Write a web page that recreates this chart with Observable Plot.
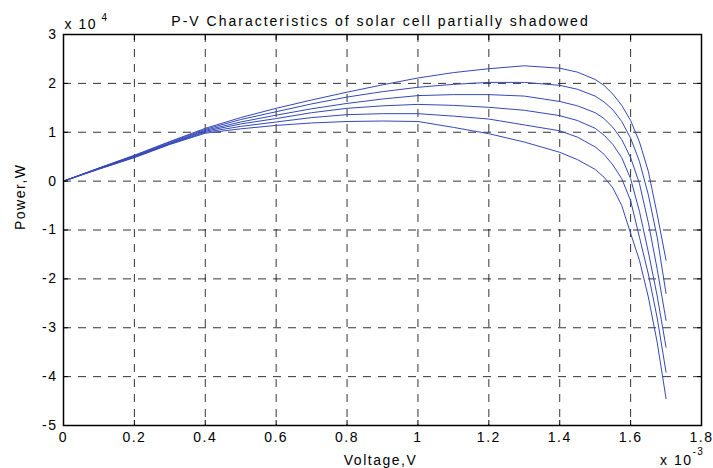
<!DOCTYPE html>
<html><head><meta charset="utf-8">
<script src="https://cdn.jsdelivr.net/npm/d3@7"></script>
<script src="https://cdn.jsdelivr.net/npm/@observablehq/plot@0.6"></script>
<style>body{margin:0;background:#fff} svg{display:block}</style>
</head><body><div id="chart"></div>
<script>
// Voltage (x 1e-3 V)
const voltage = [0, 0.1, 0.2, 0.3, 0.4, 0.5, 0.6, 0.7, 0.8, 0.9, 1.0, 1.1, 1.2, 1.3, 1.4, 1.45, 1.5, 1.525, 1.55, 1.575, 1.6, 1.625, 1.65, 1.675, 1.7];
// Power (x 1e4 W), six shading levels
const curve1 = [0, 0.27, 0.53, 0.81, 1.08, 1.30, 1.49, 1.66, 1.82, 1.97, 2.11, 2.22, 2.30, 2.36, 2.31, 2.23, 2.08, 1.96, 1.78, 1.55, 1.24, 0.80, 0.20, -0.68, -1.62];
const curve2 = [0, 0.265, 0.52, 0.80, 1.06, 1.26, 1.42, 1.58, 1.72, 1.83, 1.92, 1.98, 2.02, 2.02, 1.96, 1.88, 1.74, 1.62, 1.46, 1.22, 0.88, 0.40, -0.28, -1.15, -2.30];
const curve3 = [0, 0.26, 0.51, 0.78, 1.04, 1.21, 1.35, 1.48, 1.59, 1.68, 1.75, 1.77, 1.77, 1.74, 1.63, 1.54, 1.40, 1.28, 1.10, 0.85, 0.48, -0.05, -0.85, -1.80, -2.85];
const curve4 = [0, 0.255, 0.50, 0.77, 1.02, 1.17, 1.28, 1.40, 1.49, 1.54, 1.57, 1.55, 1.51, 1.45, 1.34, 1.24, 1.08, 0.94, 0.75, 0.48, 0.05, -0.62, -1.45, -2.35, -3.40];
const curve5 = [0, 0.25, 0.49, 0.76, 1.00, 1.12, 1.21, 1.30, 1.36, 1.38, 1.38, 1.33, 1.27, 1.15, 1.03, 0.90, 0.70, 0.55, 0.33, 0.05, -0.40, -1.15, -1.90, -2.80, -3.91];
const curve6 = [0, 0.245, 0.48, 0.75, 0.98, 1.07, 1.14, 1.19, 1.22, 1.23, 1.22, 1.10, 0.97, 0.80, 0.59, 0.44, 0.24, 0.08, -0.14, -0.50, -1.07, -1.62, -2.37, -3.30, -4.45];
const xTicks = [0, 0.2, 0.4, 0.6, 0.8, 1.0, 1.2, 1.4, 1.6, 1.8];
const yTicks = [-5, -4, -3, -2, -1, 0, 1, 2, 3];
const title = "P-V Characteristics of solar cell partially shadowed";
const xLabel = "Voltage,V";
const yLabel = "Power,W";

const series = [curve1, curve2, curve3, curve4, curve5, curve6];
const data = series.flatMap((vals, i) => vals.map((p, j) => ({v: voltage[j], p, s: i})));

const font = "'Liberation Sans', Arial, Helvetica, sans-serif";
const chart = Plot.plot({
  width: 713, height: 468,
  marginLeft: 63, marginRight: 12, marginTop: 34, marginBottom: 43,
  style: {fontFamily: font, fontSize: "14px", background: "#fff", color: "#000", overflow: "visible", letterSpacing: "1.5px"},
  x: {domain: [0, 1.8]},
  y: {domain: [-5, 3]},
  marks: [
    Plot.gridX(xTicks, {stroke: "#000", strokeOpacity: 0.8, strokeDasharray: "8,7"}),
    Plot.gridY(yTicks, {stroke: "#000", strokeOpacity: 0.8, strokeDasharray: "8,7"}),
    Plot.line(data, {x: "v", y: "p", z: "s", stroke: "#3548b8", strokeWidth: 1}),
    Plot.frame({stroke: "#000", strokeWidth: 1.5}),
    Plot.axisX(xTicks, {tickSize: 0, tickPadding: 7, tickFormat: d => String(+d.toFixed(1)), label: null}),
    Plot.axisX(xTicks, {anchor: "bottom", tickSize: -5, tickFormat: () => "", label: null}),
    Plot.axisX(xTicks, {anchor: "top", tickSize: -5, tickFormat: () => "", label: null}),
    Plot.axisY(yTicks, {tickSize: 0, tickPadding: 6, tickFormat: d => String(d), label: null}),
    Plot.axisY(yTicks, {anchor: "left", tickSize: -5, tickFormat: () => "", label: null}),
    Plot.axisY(yTicks, {anchor: "right", tickSize: -5, tickFormat: () => "", label: null}),
    Plot.text([title], {frameAnchor: "top", lineAnchor: "bottom", dx: -2, dy: -9, fontSize: 14}),
    Plot.text([xLabel], {frameAnchor: "bottom", lineAnchor: "bottom", dx: -2, dy: 39, fontSize: 14}),
    Plot.text([yLabel], {frameAnchor: "left", lineAnchor: "bottom", rotate: -90, dx: -39, fontSize: 14}),
    Plot.text(["x 10"], {frameAnchor: "top-left", textAnchor: "start", lineAnchor: "bottom", dx: 1, dy: -6, fontSize: 14}),
    Plot.text(["4"], {frameAnchor: "top-left", textAnchor: "start", lineAnchor: "bottom", dx: 38, dy: -14, fontSize: 10}),
    Plot.text(["x 10"], {frameAnchor: "bottom-right", textAnchor: "end", lineAnchor: "bottom", dx: -9, dy: 39, fontSize: 14}),
    Plot.text(["-3"], {frameAnchor: "bottom-right", textAnchor: "start", lineAnchor: "bottom", dx: -9, dy: 29, fontSize: 10})
  ]
});
// widen the title's letter spacing to match the reference
chart.querySelectorAll("text").forEach(t => { if (t.textContent === title) t.style.letterSpacing = "2px"; });
document.getElementById("chart").append(chart);
</script>
</body></html>
